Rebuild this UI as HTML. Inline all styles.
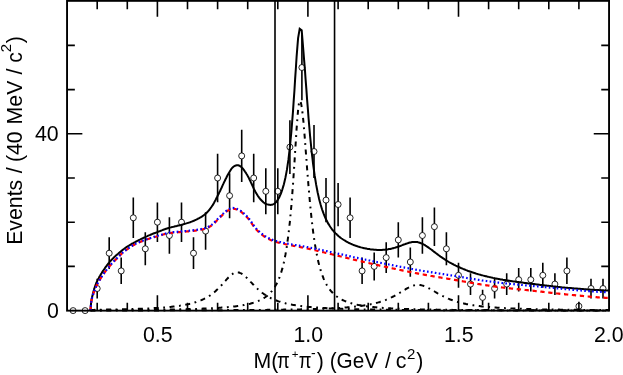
<!DOCTYPE html>
<html><head><meta charset="utf-8"><title>plot</title>
<style>html,body{margin:0;padding:0;background:#fff;}body{width:623px;height:375px;overflow:hidden;font-family:"Liberation Sans",sans-serif;}svg{display:block;will-change:transform}</style>
</head><body>
<svg width="623" height="375" viewBox="0 0 623 375">
<rect width="623" height="375" fill="#fff"/>
<path d="M97.2,278.7V298.4M109.2,237.2V269.1M121.2,257.6V284.1M133.3,197.5V238.1M145.3,232.2V265.3M157.4,202.5V242.0M169.4,217.3V253.7M181.5,202.5V242.0M193.5,237.2V269.1M205.6,212.3V249.8M217.6,153.8V202.2M229.6,173.2V218.2M241.7,129.8V182.1M253.7,153.8V202.2M265.8,168.3V214.3M277.8,168.3V214.3M289.9,120.2V174.0M301.9,34.7V100.3M314.0,125.0V178.0M326.0,178.0V222.2M338.1,182.9V226.2M350.1,197.5V238.1M362.1,257.6V284.1M374.2,252.5V280.4M386.2,242.3V272.9M398.3,222.2V257.6M410.3,247.4V276.7M422.4,217.3V253.7M434.4,207.4V245.9M446.4,232.2V265.3M458.5,262.8V287.8M470.5,273.3V295.0M482.6,289.7V305.0M494.6,278.7V298.4M506.7,273.3V295.0M518.7,268.0V291.4M530.8,268.0V291.4M542.8,262.8V287.8M554.9,273.3V295.0M566.9,257.6V284.1M578.9,301.8V310.6M591.0,278.7V298.4M603.0,278.7V298.4" stroke="#000" stroke-width="1.6" fill="none"/>
<g stroke="#000" stroke-width="0.85" fill="#fff">
<circle cx="73.1" cy="310.6" r="3"/>
<circle cx="85.1" cy="310.6" r="3"/>
<circle cx="97.2" cy="288.5" r="3"/>
<circle cx="109.2" cy="253.2" r="3"/>
<circle cx="121.2" cy="270.9" r="3"/>
<circle cx="133.3" cy="217.8" r="3"/>
<circle cx="145.3" cy="248.8" r="3"/>
<circle cx="157.4" cy="222.2" r="3"/>
<circle cx="169.4" cy="235.5" r="3"/>
<circle cx="181.5" cy="222.2" r="3"/>
<circle cx="193.5" cy="253.2" r="3"/>
<circle cx="205.6" cy="231.1" r="3"/>
<circle cx="217.6" cy="178.0" r="3"/>
<circle cx="229.6" cy="195.7" r="3"/>
<circle cx="241.7" cy="155.9" r="3"/>
<circle cx="253.7" cy="178.0" r="3"/>
<circle cx="265.8" cy="191.3" r="3"/>
<circle cx="277.8" cy="191.3" r="3"/>
<circle cx="289.9" cy="147.1" r="3"/>
<circle cx="301.9" cy="67.5" r="3"/>
<circle cx="314.0" cy="151.5" r="3"/>
<circle cx="326.0" cy="200.1" r="3"/>
<circle cx="338.1" cy="204.5" r="3"/>
<circle cx="350.1" cy="217.8" r="3"/>
<circle cx="362.1" cy="270.9" r="3"/>
<circle cx="374.2" cy="266.4" r="3"/>
<circle cx="386.2" cy="257.6" r="3"/>
<circle cx="398.3" cy="239.9" r="3"/>
<circle cx="410.3" cy="262.0" r="3"/>
<circle cx="422.4" cy="235.5" r="3"/>
<circle cx="434.4" cy="226.7" r="3"/>
<circle cx="446.4" cy="248.8" r="3"/>
<circle cx="458.5" cy="275.3" r="3"/>
<circle cx="470.5" cy="284.1" r="3"/>
<circle cx="482.6" cy="297.4" r="3"/>
<circle cx="494.6" cy="288.5" r="3"/>
<circle cx="506.7" cy="284.1" r="3"/>
<circle cx="518.7" cy="279.7" r="3"/>
<circle cx="530.8" cy="279.7" r="3"/>
<circle cx="542.8" cy="275.3" r="3"/>
<circle cx="554.9" cy="284.1" r="3"/>
<circle cx="566.9" cy="270.9" r="3"/>
<circle cx="578.9" cy="306.2" r="3"/>
<circle cx="591.0" cy="288.5" r="3"/>
<circle cx="603.0" cy="288.5" r="3"/>
</g>
<path d="M90.4,310.6L91.2,301.7L91.9,297.9L92.7,294.5L93.4,291.7L94.2,289.0L94.9,286.7L95.7,284.6L96.4,282.7L97.2,281.1L97.9,279.6L98.7,278.2L99.4,276.8L100.2,275.5L100.9,274.2L101.7,273.0L102.4,271.8L103.2,270.7L103.9,269.6L104.7,268.5L105.4,267.4L106.2,266.4L106.9,265.4L107.7,264.4L108.4,263.5L109.2,262.6L109.9,261.7L110.7,260.8L111.4,259.9L112.2,259.2L112.9,258.4L113.7,257.7L114.4,256.9L115.2,256.3L115.9,255.6L116.7,254.9L117.4,254.3L118.2,253.7L118.9,253.0L119.7,252.4L120.4,251.7L121.2,251.1L121.9,250.5L122.7,249.9L123.4,249.3L124.2,248.8L124.9,248.2L125.7,247.7L126.4,247.2L127.2,246.7L127.9,246.2L128.7,245.8L129.4,245.3L130.2,244.8L130.9,244.4L131.7,243.9L132.4,243.5L133.2,243.1L133.9,242.7L134.7,242.3L135.4,241.9L136.2,241.5L136.9,241.1L137.7,240.7L138.4,240.3L139.2,239.9L139.9,239.6L140.7,239.2L141.4,238.8L142.2,238.5L142.9,238.1L143.7,237.8L144.4,237.4L145.2,237.1L145.9,236.7L146.7,236.4L147.4,236.1L148.2,235.7L148.9,235.4L149.7,235.1L150.4,234.8L151.2,234.5L151.9,234.1L152.7,233.8L153.4,233.5L154.2,233.3L154.9,233.0L155.7,232.7L156.4,232.4L157.2,232.1L157.9,231.8L158.7,231.5L159.4,231.3L160.2,231.0L160.9,230.7L161.7,230.4L162.4,230.1L163.2,229.8L163.9,229.5L164.7,229.3L165.4,229.0L166.2,228.8L166.9,228.5L167.7,228.3L168.4,228.0L169.2,227.8L169.9,227.6L170.7,227.4L171.4,227.2L172.2,227.1L172.9,226.9L173.7,226.7L174.4,226.5L175.2,226.3L175.9,226.2L176.7,226.0L177.4,225.8L178.2,225.6L178.9,225.5L179.7,225.3L180.4,225.1L181.2,224.9L181.9,224.7L182.7,224.5L183.4,224.2L184.2,224.0L184.9,223.8L185.7,223.6L186.4,223.4L187.2,223.1L187.9,222.9L188.7,222.7L189.4,222.4L190.2,222.2L190.9,221.9L191.7,221.6L192.4,221.3L193.2,221.0L193.9,220.7L194.7,220.4L195.4,220.0L196.2,219.7L196.9,219.3L197.7,218.9L198.4,218.5L199.2,218.1L199.9,217.7L200.7,217.3L201.4,216.8L202.2,216.3L202.9,215.8L203.7,215.3L204.4,214.7L205.2,214.1L205.9,213.5L206.7,212.8L207.4,212.0L208.2,211.2L208.9,210.3L209.7,209.3L210.4,208.4L211.2,207.3L211.9,206.2L212.7,205.1L213.4,203.9L214.2,202.5L214.9,201.1L215.7,199.7L216.4,198.2L217.2,196.7L217.9,195.2L218.7,193.7L219.4,192.2L220.2,190.7L220.9,189.1L221.7,187.5L222.4,185.9L223.2,184.2L223.9,182.6L224.7,181.0L225.4,179.5L226.2,178.0L226.9,176.5L227.7,175.1L228.4,173.8L229.2,172.4L229.9,171.2L230.7,169.9L231.4,168.8L232.2,167.9L232.9,167.2L233.7,166.5L234.4,166.1L235.2,165.7L235.9,165.5L236.7,165.3L237.4,165.3L238.2,165.3L238.9,165.5L239.7,165.9L240.4,166.3L241.2,166.9L241.9,167.6L242.7,168.5L243.4,169.4L244.2,170.4L244.9,171.5L245.7,172.6L246.4,173.8L247.2,175.0L247.9,176.3L248.7,177.7L249.4,179.2L250.2,180.8L250.9,182.4L251.7,184.0L252.4,185.7L253.2,187.3L253.9,188.9L254.7,190.4L255.4,191.8L256.1,193.1L256.9,194.3L257.6,195.5L258.4,196.6L259.1,197.6L259.9,198.6L260.6,199.5L261.4,200.3L262.1,201.1L262.9,201.8L263.6,202.5L264.4,203.0L265.1,203.5L265.9,203.8L266.6,204.2L267.4,204.4L268.1,204.6L268.9,204.7L269.6,204.8L270.4,204.9L271.1,204.8L271.9,204.7L272.6,204.5L273.4,204.2L274.1,203.8L274.9,203.3L275.6,202.6L276.4,201.8L277.1,200.8L277.9,199.7L278.6,198.4L279.4,197.0L280.1,195.4L280.9,193.6L281.6,191.6L282.4,189.3L283.1,186.9L283.9,184.2L284.6,181.2L285.4,177.8L286.1,174.1L286.9,169.9L287.6,165.2L288.4,159.9L289.1,153.9L289.9,147.2L290.6,139.7L291.4,131.5L292.1,122.5L292.9,112.7L293.6,102.1L294.4,91.0L295.1,79.4L295.9,67.8L296.6,56.7L297.4,46.6L298.1,38.2L299.7,28.9L301.7,30.4L303.4,51.2L304.1,59.9L304.9,69.4L305.6,79.4L306.4,89.6L307.1,99.6L307.9,109.4L308.6,118.8L309.4,127.8L310.1,136.2L310.9,144.0L311.6,151.3L312.4,158.0L313.1,164.2L313.9,169.9L314.6,175.2L315.4,180.0L316.1,184.4L316.9,188.5L317.6,192.3L318.4,195.7L319.1,198.9L319.9,201.9L320.6,204.6L321.4,207.2L322.1,209.5L322.9,211.7L323.6,213.7L324.4,215.6L325.1,217.4L325.9,219.0L326.6,220.6L327.4,222.0L328.1,223.4L328.9,224.6L329.6,225.8L330.4,227.0L331.1,228.0L331.9,229.1L332.6,230.0L333.4,230.9L334.1,231.8L334.9,232.6L335.6,233.4L336.4,234.1L337.1,234.8L337.9,235.5L338.6,236.2L339.4,236.8L340.1,237.4L340.9,238.0L341.6,238.5L342.4,239.0L343.1,239.5L343.9,240.0L344.6,240.5L345.4,240.9L346.1,241.4L346.9,241.8L347.6,242.2L348.4,242.6L349.1,243.0L349.9,243.3L350.6,243.7L351.4,244.0L352.1,244.3L352.9,244.7L353.6,245.0L354.4,245.2L355.1,245.5L355.9,245.8L356.6,246.1L357.4,246.3L358.1,246.6L358.9,246.8L359.6,247.0L360.4,247.2L361.1,247.4L361.9,247.6L362.6,247.8L363.4,248.0L364.1,248.2L364.9,248.3L365.6,248.5L366.4,248.6L367.1,248.8L367.9,248.9L368.6,249.0L369.4,249.1L370.1,249.3L370.9,249.4L371.6,249.5L372.4,249.5L373.1,249.6L373.9,249.7L374.6,249.7L375.4,249.8L376.1,249.8L376.9,249.9L377.6,249.9L378.4,249.9L379.1,249.9L379.9,249.9L380.6,249.9L381.4,249.9L382.1,249.9L382.9,249.8L383.6,249.8L384.4,249.7L385.1,249.7L385.9,249.6L386.6,249.5L387.4,249.4L388.1,249.3L388.9,249.1L389.6,249.0L390.4,248.9L391.1,248.7L391.9,248.5L392.6,248.3L393.4,248.2L394.1,247.9L394.9,247.7L395.6,247.5L396.4,247.3L397.1,247.0L397.9,246.8L398.6,246.5L399.4,246.2L400.1,246.0L400.9,245.7L401.6,245.4L402.4,245.1L403.1,244.8L403.9,244.5L404.6,244.3L405.4,244.0L406.1,243.7L406.9,243.5L407.6,243.2L408.4,243.0L409.1,242.7L409.9,242.5L410.6,242.4L411.4,242.2L412.1,242.1L412.9,242.0L413.6,241.9L414.4,241.9L415.1,241.9L415.9,241.9L416.6,242.0L417.4,242.1L418.1,242.3L418.9,242.5L419.6,242.7L420.4,243.0L421.1,243.3L421.9,243.6L422.6,243.9L423.4,244.3L424.1,244.7L424.9,245.1L425.6,245.6L426.4,246.1L427.1,246.6L427.9,247.1L428.6,247.6L429.4,248.2L430.1,248.7L430.9,249.3L431.6,249.8L432.4,250.4L433.1,251.0L433.9,251.6L434.6,252.1L435.4,252.7L436.1,253.3L436.9,253.8L437.6,254.4L438.4,255.0L439.1,255.5L439.9,256.1L440.6,256.6L441.4,257.1L442.1,257.7L442.9,258.2L443.6,258.7L444.4,259.2L445.1,259.7L445.9,260.1L446.6,260.6L447.4,261.1L448.1,261.5L448.9,262.0L449.6,262.4L450.4,262.8L451.1,263.2L451.9,263.6L452.6,264.0L453.4,264.4L454.1,264.8L454.9,265.2L455.6,265.6L456.4,265.9L457.1,266.3L457.9,266.6L458.6,267.0L459.4,267.3L460.1,267.6L460.9,268.0L461.6,268.3L462.4,268.6L463.1,268.9L463.9,269.2L464.6,269.5L465.4,269.8L466.1,270.1L466.9,270.4L467.6,270.7L468.4,271.0L469.1,271.2L469.9,271.5L470.6,271.8L471.4,272.0L472.1,272.3L472.9,272.5L473.6,272.8L474.4,273.0L475.1,273.2L475.9,273.5L476.6,273.7L477.4,273.9L478.1,274.2L478.9,274.4L479.6,274.6L480.4,274.8L481.1,275.0L481.9,275.2L482.6,275.4L483.4,275.6L484.1,275.8L484.9,276.0L485.6,276.2L486.4,276.3L487.1,276.5L487.9,276.7L488.6,276.9L489.4,277.1L490.1,277.2L490.9,277.4L491.6,277.6L492.4,277.7L493.1,277.9L493.9,278.1L494.6,278.2L495.4,278.4L496.1,278.5L496.9,278.7L497.6,278.8L498.4,278.9L499.1,279.1L499.9,279.2L500.6,279.4L501.4,279.5L502.1,279.6L502.9,279.8L503.6,279.9L504.4,280.0L505.1,280.1L505.9,280.3L506.6,280.4L507.4,280.5L508.1,280.6L508.9,280.7L509.6,280.8L510.4,281.0L511.1,281.1L511.9,281.2L512.6,281.3L513.4,281.4L514.1,281.5L514.9,281.6L515.6,281.7L516.4,281.8L517.1,281.9L517.9,282.0L518.6,282.1L519.4,282.2L520.1,282.3L520.9,282.4L521.6,282.5L522.4,282.6L523.1,282.7L523.9,282.8L524.6,282.9L525.4,283.0L526.1,283.1L526.9,283.2L527.6,283.3L528.4,283.4L529.1,283.5L529.9,283.6L530.6,283.7L531.4,283.8L532.1,283.8L532.9,283.9L533.6,284.0L534.4,284.1L535.1,284.2L535.9,284.3L536.6,284.4L537.4,284.5L538.1,284.6L538.9,284.7L539.6,284.8L540.4,284.9L541.1,284.9L541.9,285.0L542.6,285.1L543.4,285.2L544.1,285.3L544.9,285.4L545.6,285.5L546.4,285.6L547.1,285.7L547.9,285.8L548.6,285.8L549.4,285.9L550.1,286.0L550.9,286.1L551.6,286.2L552.4,286.3L553.1,286.4L553.9,286.4L554.6,286.5L555.4,286.6L556.1,286.7L556.9,286.8L557.6,286.9L558.4,287.0L559.1,287.0L559.9,287.1L560.6,287.2L561.4,287.3L562.1,287.4L562.9,287.4L563.6,287.5L564.4,287.6L565.1,287.7L565.9,287.7L566.6,287.8L567.4,287.8L568.1,287.9L568.9,288.0L569.6,288.0L570.4,288.1L571.1,288.1L571.9,288.2L572.6,288.3L573.4,288.3L574.1,288.4L574.9,288.4L575.6,288.5L576.4,288.5L577.1,288.6L577.9,288.7L578.6,288.7L579.4,288.8L580.1,288.8L580.9,288.9L581.6,289.0L582.4,289.0L583.1,289.1L583.9,289.2L584.6,289.2L585.4,289.3L586.1,289.3L586.9,289.4L587.6,289.5L588.4,289.5L589.1,289.6L589.9,289.6L590.6,289.7L591.4,289.7L592.1,289.7L592.9,289.8L593.6,289.8L594.4,289.9L595.1,289.9L595.9,290.0L596.6,290.0L597.4,290.0L598.1,290.1L598.9,290.1L599.6,290.2L600.4,290.2L601.1,290.2L601.9,290.3L602.6,290.3L603.4,290.3L604.1,290.4L604.9,290.4L605.6,290.4L606.4,290.4L607.1,290.5L607.9,290.5L608.6,290.5L609.0,290.5" stroke="#000" stroke-width="2" fill="none" stroke-linejoin="miter" stroke-miterlimit="10"/>
<g fill="none" stroke-linejoin="round">
<path d="M90.4,310.6L91.2,310.1L91.9,310.0L92.7,309.9L93.4,309.9L94.2,309.9L94.9,309.8L95.7,309.8L96.4,309.8L97.2,309.8L97.9,309.8L98.7,309.8L99.4,309.7L100.2,309.7L100.9,309.7L101.7,309.7L102.4,309.7L103.2,309.7L103.9,309.7L104.7,309.7L105.4,309.6L106.2,309.6L106.9,309.6L107.7,309.6L108.4,309.6L109.2,309.6L109.9,309.6L110.7,309.5L111.4,309.5L112.2,309.5L112.9,309.5L113.7,309.5L114.4,309.5L115.2,309.5L115.9,309.4L116.7,309.4L117.4,309.4L118.2,309.4L118.9,309.4L119.7,309.4L120.4,309.4L121.2,309.3L121.9,309.3L122.7,309.3L123.4,309.3L124.2,309.3L124.9,309.2L125.7,309.2L126.4,309.2L127.2,309.2L127.9,309.2L128.7,309.1L129.4,309.1L130.2,309.1L130.9,309.1L131.7,309.1L132.4,309.0L133.2,309.0L133.9,309.0L134.7,309.0L135.4,308.9L136.2,308.9L136.9,308.9L137.7,308.9L138.4,308.8L139.2,308.8L139.9,308.8L140.7,308.8L141.4,308.7L142.2,308.7L142.9,308.7L143.7,308.6L144.4,308.6L145.2,308.6L145.9,308.6L146.7,308.5L147.4,308.5L148.2,308.5L148.9,308.4L149.7,308.4L150.4,308.3L151.2,308.3L151.9,308.3L152.7,308.2L153.4,308.2L154.2,308.1L154.9,308.1L155.7,308.1L156.4,308.0L157.2,308.0L157.9,307.9L158.7,307.9L159.4,307.8L160.2,307.8L160.9,307.7L161.7,307.7L162.4,307.6L163.2,307.5L163.9,307.5L164.7,307.4L165.4,307.4L166.2,307.3L166.9,307.2L167.7,307.2L168.4,307.1L169.2,307.0L169.9,306.9L170.7,306.9L171.4,306.8L172.2,306.7L172.9,306.6L173.7,306.5L174.4,306.5L175.2,306.4L175.9,306.3L176.7,306.2L177.4,306.1L178.2,306.0L178.9,305.9L179.7,305.8L180.4,305.6L181.2,305.5L181.9,305.4L182.7,305.3L183.4,305.2L184.2,305.0L184.9,304.9L185.7,304.7L186.4,304.6L187.2,304.4L187.9,304.3L188.7,304.1L189.4,303.9L190.2,303.8L190.9,303.6L191.7,303.4L192.4,303.2L193.2,303.0L193.9,302.8L194.7,302.5L195.4,302.3L196.2,302.1L196.9,301.8L197.7,301.6L198.4,301.3L199.2,301.0L199.9,300.7L200.7,300.4L201.4,300.1L202.2,299.8L202.9,299.4L203.7,299.1L204.4,298.7L205.2,298.3L205.9,297.9L206.7,297.5L207.4,297.1L208.2,296.6L208.9,296.2L209.7,295.7L210.4,295.2L211.2,294.6L211.9,294.1L212.7,293.5L213.4,292.9L214.2,292.3L214.9,291.7L215.7,291.0L216.4,290.3L217.2,289.6L217.9,288.9L218.7,288.2L219.4,287.4L220.2,286.6L220.9,285.8L221.7,285.0L222.4,284.2L223.2,283.3L223.9,282.5L224.7,281.6L225.4,280.8L226.2,279.9L226.9,279.1L227.7,278.3L228.4,277.5L229.2,276.8L229.9,276.0L230.7,275.4L231.4,274.7L232.2,274.2L232.9,273.7L233.7,273.2L234.4,272.9L235.2,272.6L235.9,272.4L236.7,272.3L237.4,272.3L238.2,272.4L238.9,272.5L239.7,272.8L240.4,273.1L241.2,273.4L241.9,273.8L242.7,274.3L243.4,274.9L244.2,275.5L244.9,276.1L245.7,276.8L246.4,277.5L247.2,278.2L247.9,279.0L248.7,279.8L249.4,280.6L250.2,281.3L250.9,282.1L251.7,282.9L252.4,283.7L253.2,284.5L253.9,285.3L254.7,286.0L255.4,286.8L256.1,287.5L256.9,288.2L257.6,288.9L258.4,289.6L259.1,290.3L259.9,290.9L260.6,291.5L261.4,292.1L262.1,292.7L262.9,293.3L263.6,293.8L264.4,294.3L265.1,294.8L265.9,295.3L266.6,295.8L267.4,296.2L268.1,296.7L268.9,297.1L269.6,297.5L270.4,297.9L271.1,298.3L271.9,298.6L272.6,299.0L273.4,299.3L274.1,299.6L274.9,300.0L275.6,300.3L276.4,300.5L277.1,300.8L277.9,301.1L278.6,301.4L279.4,301.6L280.1,301.8L280.9,302.1L281.6,302.3L282.4,302.5L283.1,302.7L283.9,302.9L284.6,303.1L285.4,303.3L286.1,303.5L286.9,303.7L287.6,303.8L288.4,304.0L289.1,304.2L289.9,304.3L290.6,304.5L291.4,304.6L292.1,304.7L292.9,304.9L293.6,305.0L294.4,305.1L295.1,305.2L295.9,305.4L296.6,305.5L297.4,305.6L298.1,305.7L298.9,305.8L299.6,305.9L300.4,306.0L301.1,306.1L301.9,306.2L302.6,306.3L303.4,306.4L304.1,306.5L304.9,306.5L305.6,306.6L306.4,306.7L307.1,306.8L307.9,306.8L308.6,306.9L309.4,307.0L310.1,307.1L310.9,307.1L311.6,307.2L312.4,307.2L313.1,307.3L313.9,307.4L314.6,307.4L315.4,307.5L316.1,307.5L316.9,307.6L317.6,307.6L318.4,307.7L319.1,307.7L319.9,307.8L320.6,307.8L321.4,307.9L322.1,307.9L322.9,308.0L323.6,308.0L324.4,308.1L325.1,308.1L325.9,308.1L326.6,308.2L327.4,308.2L328.1,308.3L328.9,308.3L329.6,308.3L330.4,308.4L331.1,308.4L331.9,308.4L332.6,308.5L333.4,308.5L334.1,308.5L334.9,308.6L335.6,308.6L336.4,308.6L337.1,308.6L337.9,308.7L338.6,308.7L339.4,308.7L340.1,308.8L340.9,308.8L341.6,308.8L342.4,308.8L343.1,308.9L343.9,308.9L344.6,308.9L345.4,308.9L346.1,308.9L346.9,309.0L347.6,309.0L348.4,309.0L349.1,309.0L349.9,309.1L350.6,309.1L351.4,309.1L352.1,309.1L352.9,309.1L353.6,309.2L354.4,309.2L355.1,309.2L355.9,309.2L356.6,309.2L357.4,309.2L358.1,309.3L358.9,309.3L359.6,309.3L360.4,309.3L361.1,309.3L361.9,309.3L362.6,309.4L363.4,309.4L364.1,309.4L364.9,309.4L365.6,309.4L366.4,309.4L367.1,309.4L367.9,309.4L368.6,309.5L369.4,309.5L370.1,309.5L370.9,309.5L371.6,309.5L372.4,309.5L373.1,309.5L373.9,309.5L374.6,309.6L375.4,309.6L376.1,309.6L376.9,309.6L377.6,309.6L378.4,309.6L379.1,309.6L379.9,309.6L380.6,309.6L381.4,309.7L382.1,309.7L382.9,309.7L383.6,309.7L384.4,309.7L385.1,309.7L385.9,309.7L386.6,309.7L387.4,309.7L388.1,309.7L388.9,309.8L389.6,309.8L390.4,309.8L391.1,309.8L391.9,309.8L392.6,309.8L393.4,309.8L394.1,309.8L394.9,309.8L395.6,309.8L396.4,309.8L397.1,309.8L397.9,309.8L398.6,309.9L399.4,309.9L400.1,309.9L400.9,309.9L401.6,309.9L402.4,309.9L403.1,309.9L403.9,309.9L404.6,309.9L405.4,309.9L406.1,309.9L406.9,309.9L407.6,309.9L408.4,309.9L409.1,309.9L409.9,310.0L410.6,310.0L411.4,310.0L412.1,310.0L412.9,310.0L413.6,310.0L414.4,310.0L415.1,310.0L415.9,310.0L416.6,310.0L417.4,310.0L418.1,310.0L418.9,310.0L419.6,310.0L420.4,310.0L421.1,310.0L421.9,310.0L422.6,310.0L423.4,310.0L424.1,310.1L424.9,310.1L425.6,310.1L426.4,310.1L427.1,310.1L427.9,310.1L428.6,310.1L429.4,310.1L430.1,310.1L430.9,310.1L431.6,310.1L432.4,310.1L433.1,310.1L433.9,310.1L434.6,310.1L435.4,310.1L436.1,310.1L436.9,310.1L437.6,310.1L438.4,310.1L439.1,310.1L439.9,310.1L440.6,310.1L441.4,310.1L442.1,310.2L442.9,310.2L443.6,310.2L444.4,310.2L445.1,310.2L445.9,310.2L446.6,310.2L447.4,310.2L448.1,310.2L448.9,310.2L449.6,310.2L450.4,310.2L451.1,310.2L451.9,310.2L452.6,310.2L453.4,310.2L454.1,310.2L454.9,310.2L455.6,310.2L456.4,310.2L457.1,310.2L457.9,310.2L458.6,310.2L459.4,310.2L460.1,310.2L460.9,310.2L461.6,310.2L462.4,310.2L463.1,310.2L463.9,310.2L464.6,310.2L465.4,310.2L466.1,310.2L466.9,310.3L467.6,310.3L468.4,310.3L469.1,310.3L469.9,310.3L470.6,310.3L471.4,310.3L472.1,310.3L472.9,310.3L473.6,310.3L474.4,310.3L475.1,310.3L475.9,310.3L476.6,310.3L477.4,310.3L478.1,310.3L478.9,310.3L479.6,310.3L480.4,310.3L481.1,310.3L481.9,310.3L482.6,310.3L483.4,310.3L484.1,310.3L484.9,310.3L485.6,310.3L486.4,310.3L487.1,310.3L487.9,310.3L488.6,310.3L489.4,310.3L490.1,310.3L490.9,310.3L491.6,310.3L492.4,310.3L493.1,310.3L493.9,310.3L494.6,310.3L495.4,310.3L496.1,310.3L496.9,310.3L497.6,310.3L498.4,310.3L499.1,310.3L499.9,310.3L500.6,310.3L501.4,310.3L502.1,310.4L502.9,310.4L503.6,310.4L504.4,310.4L505.1,310.4L505.9,310.4L506.6,310.4L507.4,310.4L508.1,310.4L508.9,310.4L509.6,310.4L510.4,310.4L511.1,310.4L511.9,310.4L512.6,310.4L513.4,310.4L514.1,310.4L514.9,310.4L515.6,310.4L516.4,310.4L517.1,310.4L517.9,310.4L518.6,310.4L519.4,310.4L520.1,310.4L520.9,310.4L521.6,310.4L522.4,310.4L523.1,310.4L523.9,310.4L524.6,310.4L525.4,310.4L526.1,310.4L526.9,310.4L527.6,310.4L528.4,310.4L529.1,310.4L529.9,310.4L530.6,310.4L531.4,310.4L532.1,310.4L532.9,310.4L533.6,310.4L534.4,310.4L535.1,310.4L535.9,310.4L536.6,310.4L537.4,310.4L538.1,310.4L538.9,310.4L539.6,310.4L540.4,310.4L541.1,310.4L541.9,310.4L542.6,310.4L543.4,310.4L544.1,310.4L544.9,310.4L545.6,310.4L546.4,310.4L547.1,310.4L547.9,310.4L548.6,310.4L549.4,310.4L550.1,310.4L550.9,310.4L551.6,310.4L552.4,310.4L553.1,310.4L553.9,310.4L554.6,310.4L555.4,310.4L556.1,310.4L556.9,310.4L557.6,310.4L558.4,310.4L559.1,310.4L559.9,310.4L560.6,310.4L561.4,310.4L562.1,310.5L562.9,310.5L563.6,310.5L564.4,310.5L565.1,310.5L565.9,310.5L566.6,310.5L567.4,310.5L568.1,310.5L568.9,310.5L569.6,310.5L570.4,310.5L571.1,310.5L571.9,310.5L572.6,310.5L573.4,310.5L574.1,310.5L574.9,310.5L575.6,310.5L576.4,310.5L577.1,310.5L577.9,310.5L578.6,310.5L579.4,310.5L580.1,310.5L580.9,310.5L581.6,310.5L582.4,310.5L583.1,310.5L583.9,310.5L584.6,310.5L585.4,310.5L586.1,310.5L586.9,310.5L587.6,310.5L588.4,310.5L589.1,310.5L589.9,310.5L590.6,310.5L591.4,310.5L592.1,310.5L592.9,310.5L593.6,310.5L594.4,310.5L595.1,310.5L595.9,310.5L596.6,310.5L597.4,310.5L598.1,310.5L598.9,310.5L599.6,310.5L600.4,310.5L601.1,310.5L601.9,310.5L602.6,310.5L603.4,310.5L604.1,310.5L604.9,310.5L605.6,310.5L606.4,310.5L607.1,310.5L607.9,310.5L608.6,310.5L609.0,310.5" stroke="#000" stroke-width="2" stroke-dasharray="5 4.55 1.8 4.55"/>
<path d="M90.4,310.6L91.2,310.3L91.9,310.3L92.7,310.3L93.4,310.2L94.2,310.2L94.9,310.2L95.7,310.2L96.4,310.2L97.2,310.2L97.9,310.2L98.7,310.2L99.4,310.2L100.2,310.2L100.9,310.2L101.7,310.2L102.4,310.1L103.2,310.1L103.9,310.1L104.7,310.1L105.4,310.1L106.2,310.1L106.9,310.1L107.7,310.1L108.4,310.1L109.2,310.1L109.9,310.1L110.7,310.1L111.4,310.1L112.2,310.1L112.9,310.1L113.7,310.1L114.4,310.1L115.2,310.1L115.9,310.1L116.7,310.1L117.4,310.1L118.2,310.0L118.9,310.0L119.7,310.0L120.4,310.0L121.2,310.0L121.9,310.0L122.7,310.0L123.4,310.0L124.2,310.0L124.9,310.0L125.7,310.0L126.4,310.0L127.2,310.0L127.9,310.0L128.7,310.0L129.4,310.0L130.2,310.0L130.9,310.0L131.7,309.9L132.4,309.9L133.2,309.9L133.9,309.9L134.7,309.9L135.4,309.9L136.2,309.9L136.9,309.9L137.7,309.9L138.4,309.9L139.2,309.9L139.9,309.9L140.7,309.9L141.4,309.9L142.2,309.9L142.9,309.8L143.7,309.8L144.4,309.8L145.2,309.8L145.9,309.8L146.7,309.8L147.4,309.8L148.2,309.8L148.9,309.8L149.7,309.8L150.4,309.8L151.2,309.8L151.9,309.8L152.7,309.7L153.4,309.7L154.2,309.7L154.9,309.7L155.7,309.7L156.4,309.7L157.2,309.7L157.9,309.7L158.7,309.7L159.4,309.7L160.2,309.6L160.9,309.6L161.7,309.6L162.4,309.6L163.2,309.6L163.9,309.6L164.7,309.6L165.4,309.6L166.2,309.6L166.9,309.5L167.7,309.5L168.4,309.5L169.2,309.5L169.9,309.5L170.7,309.5L171.4,309.5L172.2,309.5L172.9,309.4L173.7,309.4L174.4,309.4L175.2,309.4L175.9,309.4L176.7,309.4L177.4,309.4L178.2,309.3L178.9,309.3L179.7,309.3L180.4,309.3L181.2,309.3L181.9,309.3L182.7,309.2L183.4,309.2L184.2,309.2L184.9,309.2L185.7,309.2L186.4,309.2L187.2,309.1L187.9,309.1L188.7,309.1L189.4,309.1L190.2,309.1L190.9,309.0L191.7,309.0L192.4,309.0L193.2,309.0L193.9,309.0L194.7,308.9L195.4,308.9L196.2,308.9L196.9,308.9L197.7,308.8L198.4,308.8L199.2,308.8L199.9,308.8L200.7,308.7L201.4,308.7L202.2,308.7L202.9,308.6L203.7,308.6L204.4,308.6L205.2,308.6L205.9,308.5L206.7,308.5L207.4,308.5L208.2,308.4L208.9,308.4L209.7,308.4L210.4,308.3L211.2,308.3L211.9,308.2L212.7,308.2L213.4,308.2L214.2,308.1L214.9,308.1L215.7,308.0L216.4,308.0L217.2,307.9L217.9,307.9L218.7,307.9L219.4,307.8L220.2,307.8L220.9,307.7L221.7,307.6L222.4,307.6L223.2,307.5L223.9,307.5L224.7,307.4L225.4,307.4L226.2,307.3L226.9,307.2L227.7,307.2L228.4,307.1L229.2,307.0L229.9,306.9L230.7,306.9L231.4,306.8L232.2,306.7L232.9,306.6L233.7,306.5L234.4,306.5L235.2,306.4L235.9,306.3L236.7,306.2L237.4,306.1L238.2,306.0L238.9,305.9L239.7,305.8L240.4,305.6L241.2,305.5L241.9,305.4L242.7,305.3L243.4,305.1L244.2,305.0L244.9,304.8L245.7,304.7L246.4,304.5L247.2,304.4L247.9,304.2L248.7,304.0L249.4,303.9L250.2,303.7L250.9,303.5L251.7,303.3L252.4,303.0L253.2,302.8L253.9,302.6L254.7,302.3L255.4,302.1L256.1,301.8L256.9,301.5L257.6,301.2L258.4,300.9L259.1,300.6L259.9,300.3L260.6,299.9L261.4,299.5L262.1,299.1L262.9,298.7L263.6,298.2L264.4,297.8L265.1,297.3L265.9,296.7L266.6,296.2L267.4,295.6L268.1,294.9L268.9,294.3L269.6,293.5L270.4,292.8L271.1,291.9L271.9,291.1L272.6,290.1L273.4,289.1L274.1,288.0L274.9,286.9L275.6,285.6L276.4,284.3L277.1,282.8L277.9,281.2L278.6,279.5L279.4,277.7L280.1,275.6L280.9,273.4L281.6,271.0L282.4,268.4L283.1,265.5L283.9,262.3L284.6,258.8L285.4,254.9L286.1,250.7L286.9,245.9L287.6,240.7L288.4,235.0L289.1,228.6L289.9,221.6L290.6,213.8L291.4,205.3L292.1,196.0L292.9,186.0L293.6,175.2L294.4,163.7L295.1,152.0L295.9,140.1L296.6,128.7L297.4,118.4L298.1,109.8L298.9,103.7L299.6,100.8L300.4,101.3L301.1,103.6L301.9,107.9L302.6,113.8L303.4,121.3L304.1,129.8L304.9,139.1L305.6,148.9L306.4,158.8L307.1,168.7L307.9,178.3L308.6,187.5L309.4,196.2L310.1,204.4L310.9,212.0L311.6,219.1L312.4,225.6L313.1,231.6L313.9,237.2L314.6,242.2L315.4,246.9L316.1,251.1L316.9,255.0L317.6,258.6L318.4,261.9L319.1,264.9L319.9,267.6L320.6,270.2L321.4,272.5L322.1,274.7L322.9,276.7L323.6,278.6L324.4,280.3L325.1,281.9L325.9,283.3L326.6,284.7L327.4,286.0L328.1,287.2L328.9,288.3L329.6,289.3L330.4,290.3L331.1,291.2L331.9,292.0L332.6,292.8L333.4,293.6L334.1,294.3L334.9,295.0L335.6,295.6L336.4,296.2L337.1,296.7L337.9,297.3L338.6,297.8L339.4,298.2L340.1,298.7L340.9,299.1L341.6,299.5L342.4,299.9L343.1,300.3L343.9,300.6L344.6,300.9L345.4,301.2L346.1,301.5L346.9,301.8L347.6,302.1L348.4,302.4L349.1,302.6L349.9,302.9L350.6,303.1L351.4,303.3L352.1,303.5L352.9,303.7L353.6,303.9L354.4,304.1L355.1,304.3L355.9,304.4L356.6,304.6L357.4,304.8L358.1,304.9L358.9,305.1L359.6,305.2L360.4,305.3L361.1,305.5L361.9,305.6L362.6,305.7L363.4,305.8L364.1,305.9L364.9,306.1L365.6,306.2L366.4,306.3L367.1,306.4L367.9,306.5L368.6,306.6L369.4,306.6L370.1,306.7L370.9,306.8L371.6,306.9L372.4,307.0L373.1,307.0L373.9,307.1L374.6,307.2L375.4,307.3L376.1,307.3L376.9,307.4L377.6,307.5L378.4,307.5L379.1,307.6L379.9,307.6L380.6,307.7L381.4,307.8L382.1,307.8L382.9,307.9L383.6,307.9L384.4,308.0L385.1,308.0L385.9,308.1L386.6,308.1L387.4,308.1L388.1,308.2L388.9,308.2L389.6,308.3L390.4,308.3L391.1,308.4L391.9,308.4L392.6,308.4L393.4,308.5L394.1,308.5L394.9,308.5L395.6,308.6L396.4,308.6L397.1,308.6L397.9,308.7L398.6,308.7L399.4,308.7L400.1,308.8L400.9,308.8L401.6,308.8L402.4,308.8L403.1,308.9L403.9,308.9L404.6,308.9L405.4,308.9L406.1,309.0L406.9,309.0L407.6,309.0L408.4,309.0L409.1,309.1L409.9,309.1L410.6,309.1L411.4,309.1L412.1,309.2L412.9,309.2L413.6,309.2L414.4,309.2L415.1,309.2L415.9,309.2L416.6,309.3L417.4,309.3L418.1,309.3L418.9,309.3L419.6,309.3L420.4,309.4L421.1,309.4L421.9,309.4L422.6,309.4L423.4,309.4L424.1,309.4L424.9,309.4L425.6,309.5L426.4,309.5L427.1,309.5L427.9,309.5L428.6,309.5L429.4,309.5L430.1,309.5L430.9,309.6L431.6,309.6L432.4,309.6L433.1,309.6L433.9,309.6L434.6,309.6L435.4,309.6L436.1,309.6L436.9,309.7L437.6,309.7L438.4,309.7L439.1,309.7L439.9,309.7L440.6,309.7L441.4,309.7L442.1,309.7L442.9,309.7L443.6,309.8L444.4,309.8L445.1,309.8L445.9,309.8L446.6,309.8L447.4,309.8L448.1,309.8L448.9,309.8L449.6,309.8L450.4,309.8L451.1,309.8L451.9,309.8L452.6,309.9L453.4,309.9L454.1,309.9L454.9,309.9L455.6,309.9L456.4,309.9L457.1,309.9L457.9,309.9L458.6,309.9L459.4,309.9L460.1,309.9L460.9,309.9L461.6,309.9L462.4,310.0L463.1,310.0L463.9,310.0L464.6,310.0L465.4,310.0L466.1,310.0L466.9,310.0L467.6,310.0L468.4,310.0L469.1,310.0L469.9,310.0L470.6,310.0L471.4,310.0L472.1,310.0L472.9,310.0L473.6,310.0L474.4,310.0L475.1,310.1L475.9,310.1L476.6,310.1L477.4,310.1L478.1,310.1L478.9,310.1L479.6,310.1L480.4,310.1L481.1,310.1L481.9,310.1L482.6,310.1L483.4,310.1L484.1,310.1L484.9,310.1L485.6,310.1L486.4,310.1L487.1,310.1L487.9,310.1L488.6,310.1L489.4,310.1L490.1,310.1L490.9,310.2L491.6,310.2L492.4,310.2L493.1,310.2L493.9,310.2L494.6,310.2L495.4,310.2L496.1,310.2L496.9,310.2L497.6,310.2L498.4,310.2L499.1,310.2L499.9,310.2L500.6,310.2L501.4,310.2L502.1,310.2L502.9,310.2L503.6,310.2L504.4,310.2L505.1,310.2L505.9,310.2L506.6,310.2L507.4,310.2L508.1,310.2L508.9,310.2L509.6,310.2L510.4,310.2L511.1,310.2L511.9,310.2L512.6,310.3L513.4,310.3L514.1,310.3L514.9,310.3L515.6,310.3L516.4,310.3L517.1,310.3L517.9,310.3L518.6,310.3L519.4,310.3L520.1,310.3L520.9,310.3L521.6,310.3L522.4,310.3L523.1,310.3L523.9,310.3L524.6,310.3L525.4,310.3L526.1,310.3L526.9,310.3L527.6,310.3L528.4,310.3L529.1,310.3L529.9,310.3L530.6,310.3L531.4,310.3L532.1,310.3L532.9,310.3L533.6,310.3L534.4,310.3L535.1,310.3L535.9,310.3L536.6,310.3L537.4,310.3L538.1,310.3L538.9,310.3L539.6,310.3L540.4,310.3L541.1,310.3L541.9,310.3L542.6,310.3L543.4,310.3L544.1,310.4L544.9,310.4L545.6,310.4L546.4,310.4L547.1,310.4L547.9,310.4L548.6,310.4L549.4,310.4L550.1,310.4L550.9,310.4L551.6,310.4L552.4,310.4L553.1,310.4L553.9,310.4L554.6,310.4L555.4,310.4L556.1,310.4L556.9,310.4L557.6,310.4L558.4,310.4L559.1,310.4L559.9,310.4L560.6,310.4L561.4,310.4L562.1,310.4L562.9,310.4L563.6,310.4L564.4,310.4L565.1,310.4L565.9,310.4L566.6,310.4L567.4,310.4L568.1,310.4L568.9,310.4L569.6,310.4L570.4,310.4L571.1,310.4L571.9,310.4L572.6,310.4L573.4,310.4L574.1,310.4L574.9,310.4L575.6,310.4L576.4,310.4L577.1,310.4L577.9,310.4L578.6,310.4L579.4,310.4L580.1,310.4L580.9,310.4L581.6,310.4L582.4,310.4L583.1,310.4L583.9,310.4L584.6,310.4L585.4,310.4L586.1,310.4L586.9,310.4L587.6,310.4L588.4,310.4L589.1,310.4L589.9,310.4L590.6,310.4L591.4,310.4L592.1,310.4L592.9,310.4L593.6,310.4L594.4,310.4L595.1,310.4L595.9,310.4L596.6,310.5L597.4,310.5L598.1,310.5L598.9,310.5L599.6,310.5L600.4,310.5L601.1,310.5L601.9,310.5L602.6,310.5L603.4,310.5L604.1,310.5L604.9,310.5L605.6,310.5L606.4,310.5L607.1,310.5L607.9,310.5L608.6,310.5L609.0,310.5" stroke="#000" stroke-width="2" stroke-dasharray="5 4.55 1.8 4.55"/>
<path d="M90.4,310.6L91.2,310.5L91.9,310.5L92.7,310.5L93.4,310.5L94.2,310.5L94.9,310.5L95.7,310.5L96.4,310.5L97.2,310.5L97.9,310.5L98.7,310.5L99.4,310.5L100.2,310.5L100.9,310.5L101.7,310.5L102.4,310.5L103.2,310.5L103.9,310.5L104.7,310.5L105.4,310.5L106.2,310.5L106.9,310.5L107.7,310.5L108.4,310.5L109.2,310.5L109.9,310.5L110.7,310.5L111.4,310.5L112.2,310.5L112.9,310.5L113.7,310.5L114.4,310.5L115.2,310.5L115.9,310.4L116.7,310.4L117.4,310.4L118.2,310.4L118.9,310.4L119.7,310.4L120.4,310.4L121.2,310.4L121.9,310.4L122.7,310.4L123.4,310.4L124.2,310.4L124.9,310.4L125.7,310.4L126.4,310.4L127.2,310.4L127.9,310.4L128.7,310.4L129.4,310.4L130.2,310.4L130.9,310.4L131.7,310.4L132.4,310.4L133.2,310.4L133.9,310.4L134.7,310.4L135.4,310.4L136.2,310.4L136.9,310.4L137.7,310.4L138.4,310.4L139.2,310.4L139.9,310.4L140.7,310.4L141.4,310.4L142.2,310.4L142.9,310.4L143.7,310.4L144.4,310.4L145.2,310.4L145.9,310.4L146.7,310.4L147.4,310.4L148.2,310.4L148.9,310.4L149.7,310.4L150.4,310.4L151.2,310.4L151.9,310.4L152.7,310.4L153.4,310.4L154.2,310.4L154.9,310.4L155.7,310.4L156.4,310.4L157.2,310.4L157.9,310.4L158.7,310.4L159.4,310.4L160.2,310.4L160.9,310.4L161.7,310.4L162.4,310.4L163.2,310.4L163.9,310.4L164.7,310.4L165.4,310.4L166.2,310.4L166.9,310.4L167.7,310.4L168.4,310.4L169.2,310.4L169.9,310.3L170.7,310.3L171.4,310.3L172.2,310.3L172.9,310.3L173.7,310.3L174.4,310.3L175.2,310.3L175.9,310.3L176.7,310.3L177.4,310.3L178.2,310.3L178.9,310.3L179.7,310.3L180.4,310.3L181.2,310.3L181.9,310.3L182.7,310.3L183.4,310.3L184.2,310.3L184.9,310.3L185.7,310.3L186.4,310.3L187.2,310.3L187.9,310.3L188.7,310.3L189.4,310.3L190.2,310.3L190.9,310.3L191.7,310.3L192.4,310.3L193.2,310.3L193.9,310.3L194.7,310.3L195.4,310.3L196.2,310.3L196.9,310.3L197.7,310.3L198.4,310.3L199.2,310.3L199.9,310.3L200.7,310.3L201.4,310.3L202.2,310.3L202.9,310.3L203.7,310.2L204.4,310.2L205.2,310.2L205.9,310.2L206.7,310.2L207.4,310.2L208.2,310.2L208.9,310.2L209.7,310.2L210.4,310.2L211.2,310.2L211.9,310.2L212.7,310.2L213.4,310.2L214.2,310.2L214.9,310.2L215.7,310.2L216.4,310.2L217.2,310.2L217.9,310.2L218.7,310.2L219.4,310.2L220.2,310.2L220.9,310.2L221.7,310.2L222.4,310.2L223.2,310.2L223.9,310.2L224.7,310.2L225.4,310.2L226.2,310.1L226.9,310.1L227.7,310.1L228.4,310.1L229.2,310.1L229.9,310.1L230.7,310.1L231.4,310.1L232.2,310.1L232.9,310.1L233.7,310.1L234.4,310.1L235.2,310.1L235.9,310.1L236.7,310.1L237.4,310.1L238.2,310.1L238.9,310.1L239.7,310.1L240.4,310.1L241.2,310.1L241.9,310.1L242.7,310.1L243.4,310.0L244.2,310.0L244.9,310.0L245.7,310.0L246.4,310.0L247.2,310.0L247.9,310.0L248.7,310.0L249.4,310.0L250.2,310.0L250.9,310.0L251.7,310.0L252.4,310.0L253.2,310.0L253.9,310.0L254.7,310.0L255.4,310.0L256.1,310.0L256.9,309.9L257.6,309.9L258.4,309.9L259.1,309.9L259.9,309.9L260.6,309.9L261.4,309.9L262.1,309.9L262.9,309.9L263.6,309.9L264.4,309.9L265.1,309.9L265.9,309.9L266.6,309.9L267.4,309.8L268.1,309.8L268.9,309.8L269.6,309.8L270.4,309.8L271.1,309.8L271.9,309.8L272.6,309.8L273.4,309.8L274.1,309.8L274.9,309.8L275.6,309.8L276.4,309.7L277.1,309.7L277.9,309.7L278.6,309.7L279.4,309.7L280.1,309.7L280.9,309.7L281.6,309.7L282.4,309.7L283.1,309.7L283.9,309.6L284.6,309.6L285.4,309.6L286.1,309.6L286.9,309.6L287.6,309.6L288.4,309.6L289.1,309.6L289.9,309.6L290.6,309.5L291.4,309.5L292.1,309.5L292.9,309.5L293.6,309.5L294.4,309.5L295.1,309.5L295.9,309.4L296.6,309.4L297.4,309.4L298.1,309.4L298.9,309.4L299.6,309.4L300.4,309.4L301.1,309.3L301.9,309.3L302.6,309.3L303.4,309.3L304.1,309.3L304.9,309.3L305.6,309.2L306.4,309.2L307.1,309.2L307.9,309.2L308.6,309.2L309.4,309.1L310.1,309.1L310.9,309.1L311.6,309.1L312.4,309.1L313.1,309.0L313.9,309.0L314.6,309.0L315.4,309.0L316.1,309.0L316.9,308.9L317.6,308.9L318.4,308.9L319.1,308.9L319.9,308.8L320.6,308.8L321.4,308.8L322.1,308.7L322.9,308.7L323.6,308.7L324.4,308.7L325.1,308.6L325.9,308.6L326.6,308.6L327.4,308.5L328.1,308.5L328.9,308.5L329.6,308.4L330.4,308.4L331.1,308.4L331.9,308.3L332.6,308.3L333.4,308.3L334.1,308.2L334.9,308.2L335.6,308.1L336.4,308.1L337.1,308.1L337.9,308.0L338.6,308.0L339.4,307.9L340.1,307.9L340.9,307.8L341.6,307.8L342.4,307.7L343.1,307.7L343.9,307.6L344.6,307.6L345.4,307.5L346.1,307.4L346.9,307.4L347.6,307.3L348.4,307.3L349.1,307.2L349.9,307.1L350.6,307.1L351.4,307.0L352.1,306.9L352.9,306.8L353.6,306.8L354.4,306.7L355.1,306.6L355.9,306.5L356.6,306.4L357.4,306.4L358.1,306.3L358.9,306.2L359.6,306.1L360.4,306.0L361.1,305.9L361.9,305.8L362.6,305.7L363.4,305.6L364.1,305.4L364.9,305.3L365.6,305.2L366.4,305.1L367.1,304.9L367.9,304.8L368.6,304.7L369.4,304.5L370.1,304.4L370.9,304.2L371.6,304.1L372.4,303.9L373.1,303.7L373.9,303.6L374.6,303.4L375.4,303.2L376.1,303.0L376.9,302.8L377.6,302.6L378.4,302.4L379.1,302.2L379.9,302.0L380.6,301.7L381.4,301.5L382.1,301.3L382.9,301.0L383.6,300.7L384.4,300.5L385.1,300.2L385.9,299.9L386.6,299.6L387.4,299.3L388.1,299.0L388.9,298.6L389.6,298.3L390.4,298.0L391.1,297.6L391.9,297.2L392.6,296.8L393.4,296.5L394.1,296.1L394.9,295.7L395.6,295.2L396.4,294.8L397.1,294.4L397.9,293.9L398.6,293.5L399.4,293.0L400.1,292.6L400.9,292.1L401.6,291.7L402.4,291.2L403.1,290.7L403.9,290.3L404.6,289.8L405.4,289.4L406.1,288.9L406.9,288.5L407.6,288.1L408.4,287.7L409.1,287.3L409.9,286.9L410.6,286.6L411.4,286.2L412.1,286.0L412.9,285.7L413.6,285.5L414.4,285.3L415.1,285.1L415.9,285.0L416.6,284.9L417.4,284.9L418.1,284.9L418.9,284.9L419.6,285.0L420.4,285.1L421.1,285.2L421.9,285.4L422.6,285.6L423.4,285.8L424.1,286.1L424.9,286.4L425.6,286.7L426.4,287.0L427.1,287.4L427.9,287.7L428.6,288.1L429.4,288.5L430.1,288.9L430.9,289.4L431.6,289.8L432.4,290.2L433.1,290.7L433.9,291.1L434.6,291.5L435.4,292.0L436.1,292.4L436.9,292.9L437.6,293.3L438.4,293.7L439.1,294.1L439.9,294.5L440.6,295.0L441.4,295.4L442.1,295.7L442.9,296.1L443.6,296.5L444.4,296.9L445.1,297.2L445.9,297.6L446.6,297.9L447.4,298.2L448.1,298.6L448.9,298.9L449.6,299.2L450.4,299.5L451.1,299.8L451.9,300.0L452.6,300.3L453.4,300.6L454.1,300.8L454.9,301.1L455.6,301.3L456.4,301.6L457.1,301.8L457.9,302.0L458.6,302.2L459.4,302.4L460.1,302.6L460.9,302.8L461.6,303.0L462.4,303.2L463.1,303.3L463.9,303.5L464.6,303.7L465.4,303.8L466.1,304.0L466.9,304.2L467.6,304.3L468.4,304.4L469.1,304.6L469.9,304.7L470.6,304.8L471.4,305.0L472.1,305.1L472.9,305.2L473.6,305.3L474.4,305.4L475.1,305.5L475.9,305.6L476.6,305.8L477.4,305.9L478.1,305.9L478.9,306.0L479.6,306.1L480.4,306.2L481.1,306.3L481.9,306.4L482.6,306.5L483.4,306.6L484.1,306.6L484.9,306.7L485.6,306.8L486.4,306.9L487.1,306.9L487.9,307.0L488.6,307.1L489.4,307.1L490.1,307.2L490.9,307.2L491.6,307.3L492.4,307.4L493.1,307.4L493.9,307.5L494.6,307.5L495.4,307.6L496.1,307.6L496.9,307.7L497.6,307.7L498.4,307.8L499.1,307.8L499.9,307.9L500.6,307.9L501.4,308.0L502.1,308.0L502.9,308.0L503.6,308.1L504.4,308.1L505.1,308.2L505.9,308.2L506.6,308.2L507.4,308.3L508.1,308.3L508.9,308.4L509.6,308.4L510.4,308.4L511.1,308.5L511.9,308.5L512.6,308.5L513.4,308.5L514.1,308.6L514.9,308.6L515.6,308.6L516.4,308.7L517.1,308.7L517.9,308.7L518.6,308.7L519.4,308.8L520.1,308.8L520.9,308.8L521.6,308.8L522.4,308.9L523.1,308.9L523.9,308.9L524.6,308.9L525.4,309.0L526.1,309.0L526.9,309.0L527.6,309.0L528.4,309.0L529.1,309.1L529.9,309.1L530.6,309.1L531.4,309.1L532.1,309.1L532.9,309.2L533.6,309.2L534.4,309.2L535.1,309.2L535.9,309.2L536.6,309.2L537.4,309.3L538.1,309.3L538.9,309.3L539.6,309.3L540.4,309.3L541.1,309.3L541.9,309.4L542.6,309.4L543.4,309.4L544.1,309.4L544.9,309.4L545.6,309.4L546.4,309.4L547.1,309.5L547.9,309.5L548.6,309.5L549.4,309.5L550.1,309.5L550.9,309.5L551.6,309.5L552.4,309.5L553.1,309.6L553.9,309.6L554.6,309.6L555.4,309.6L556.1,309.6L556.9,309.6L557.6,309.6L558.4,309.6L559.1,309.6L559.9,309.7L560.6,309.7L561.4,309.7L562.1,309.7L562.9,309.7L563.6,309.7L564.4,309.7L565.1,309.7L565.9,309.7L566.6,309.7L567.4,309.7L568.1,309.8L568.9,309.8L569.6,309.8L570.4,309.8L571.1,309.8L571.9,309.8L572.6,309.8L573.4,309.8L574.1,309.8L574.9,309.8L575.6,309.8L576.4,309.8L577.1,309.9L577.9,309.9L578.6,309.9L579.4,309.9L580.1,309.9L580.9,309.9L581.6,309.9L582.4,309.9L583.1,309.9L583.9,309.9L584.6,309.9L585.4,309.9L586.1,309.9L586.9,309.9L587.6,309.9L588.4,309.9L589.1,310.0L589.9,310.0L590.6,310.0L591.4,310.0L592.1,310.0L592.9,310.0L593.6,310.0L594.4,310.0L595.1,310.0L595.9,310.0L596.6,310.0L597.4,310.0L598.1,310.0L598.9,310.0L599.6,310.0L600.4,310.0L601.1,310.0L601.9,310.0L602.6,310.1L603.4,310.1L604.1,310.1L604.9,310.1L605.6,310.1L606.4,310.1L607.1,310.1L607.9,310.1L608.6,310.1L609.0,310.1" stroke="#000" stroke-width="2" stroke-dasharray="5 4.55 1.8 4.55"/>
<path d="M90.4,310.6L91.2,302.1L91.9,298.6L92.7,295.9L93.4,293.5L94.2,291.3L94.9,289.3L95.7,287.5L96.4,285.9L97.2,284.4L97.9,283.0L98.7,281.6L99.4,280.3L100.2,279.1L100.9,277.9L101.7,276.7L102.4,275.6L103.2,274.5L103.9,273.4L104.7,272.4L105.4,271.4L106.2,270.4L106.9,269.4L107.7,268.5L108.4,267.6L109.2,266.7L109.9,265.8L110.7,264.9L111.4,264.1L112.2,263.3L112.9,262.5L113.7,261.7L114.4,260.9L115.2,260.1L115.9,259.4L116.7,258.6L117.4,257.9L118.2,257.1L118.9,256.4L119.7,255.6L120.4,254.9L121.2,254.1L121.9,253.4L122.7,252.8L123.4,252.2L124.2,251.6L124.9,251.0L125.7,250.4L126.4,249.9L127.2,249.3L127.9,248.8L128.7,248.2L129.4,247.7L130.2,247.2L130.9,246.7L131.7,246.2L132.4,245.8L133.2,245.3L133.9,244.9L134.7,244.5L135.4,244.1L136.2,243.7L136.9,243.4L137.7,243.0L138.4,242.7L139.2,242.4L139.9,242.0L140.7,241.7L141.4,241.4L142.2,241.1L142.9,240.9L143.7,240.6L144.4,240.3L145.2,240.0L145.9,239.8L146.7,239.5L147.4,239.3L148.2,239.0L148.9,238.8L149.7,238.6L150.4,238.3L151.2,238.1L151.9,237.9L152.7,237.7L153.4,237.4L154.2,237.2L154.9,237.0L155.7,236.8L156.4,236.5L157.2,236.3L157.9,236.1L158.7,235.9L159.4,235.6L160.2,235.4L160.9,235.2L161.7,235.0L162.4,234.8L163.2,234.5L163.9,234.3L164.7,234.1L165.4,234.0L166.2,233.8L166.9,233.6L167.7,233.5L168.4,233.3L169.2,233.2L169.9,233.1L170.7,233.0L171.4,232.9L172.2,232.8L172.9,232.7L173.7,232.6L174.4,232.5L175.2,232.5L175.9,232.4L176.7,232.3L177.4,232.3L178.2,232.2L178.9,232.1L179.7,232.1L180.4,232.0L181.2,231.9L181.9,231.9L182.7,231.8L183.4,231.7L184.2,231.7L184.9,231.6L185.7,231.6L186.4,231.5L187.2,231.4L187.9,231.4L188.7,231.3L189.4,231.2L190.2,231.2L190.9,231.1L191.7,231.0L192.4,230.9L193.2,230.8L193.9,230.8L194.7,230.7L195.4,230.6L196.2,230.5L196.9,230.4L197.7,230.3L198.4,230.1L199.2,230.0L199.9,229.9L200.7,229.8L201.4,229.6L202.2,229.5L202.9,229.3L203.7,229.1L204.4,229.0L205.2,228.8L205.9,228.5L206.7,228.3L207.4,227.9L208.2,227.6L208.9,227.2L209.7,226.7L210.4,226.2L211.2,225.7L211.9,225.2L212.7,224.7L213.4,224.0L214.2,223.3L214.9,222.6L215.7,221.8L216.4,221.0L217.2,220.2L217.9,219.5L218.7,218.8L219.4,218.0L220.2,217.3L220.9,216.5L221.7,215.8L222.4,215.0L223.2,214.3L223.9,213.6L224.7,212.9L225.4,212.3L226.2,211.7L226.9,211.2L227.7,210.7L228.4,210.3L229.2,209.9L229.9,209.4L230.7,209.1L231.4,208.8L232.2,208.7L232.9,208.6L233.7,208.7L234.4,208.8L235.2,209.0L235.9,209.3L236.7,209.5L237.4,209.8L238.2,210.1L238.9,210.4L239.7,210.9L240.4,211.3L241.2,211.9L241.9,212.5L242.7,213.1L243.4,213.8L244.2,214.5L244.9,215.2L245.7,215.9L246.4,216.7L247.2,217.4L247.9,218.2L248.7,219.1L249.4,220.1L250.2,221.1L250.9,222.2L251.7,223.3L252.4,224.4L253.2,225.5L253.9,226.5L254.7,227.5L255.4,228.5L256.1,229.3L256.9,230.1L257.6,230.9L258.4,231.6L259.1,232.3L259.9,232.9L260.6,233.6L261.4,234.2L262.1,234.8L262.9,235.4L263.6,236.0L264.4,236.5L265.1,237.0L265.9,237.4L266.6,237.9L267.4,238.3L268.1,238.7L268.9,239.1L269.6,239.5L270.4,239.8L271.1,240.2L271.9,240.5L272.6,240.8L273.4,241.1L274.1,241.3L274.9,241.6L275.6,241.8L276.4,242.0L277.1,242.3L277.9,242.5L278.6,242.7L279.4,242.8L280.1,243.0L280.9,243.2L281.6,243.4L282.4,243.5L283.1,243.7L283.9,243.8L284.6,244.0L285.4,244.2L286.1,244.3L286.9,244.5L287.6,244.6L288.4,244.8L289.1,244.9L289.9,245.1L290.6,245.2L291.4,245.4L292.1,245.5L292.9,245.7L293.6,245.8L294.4,246.0L295.1,246.1L295.9,246.3L296.6,246.4L297.4,246.5L298.1,246.7L298.9,246.8L299.6,247.0L300.4,247.1L301.1,247.3L301.9,247.4L302.6,247.5L303.4,247.7L304.1,247.8L304.9,248.0L305.6,248.1L306.4,248.3L307.1,248.5L307.9,248.6L308.6,248.8L309.4,248.9L310.1,249.1L310.9,249.3L311.6,249.5L312.4,249.6L313.1,249.8L313.9,250.0L314.6,250.1L315.4,250.3L316.1,250.5L316.9,250.7L317.6,250.9L318.4,251.0L319.1,251.2L319.9,251.4L320.6,251.6L321.4,251.8L322.1,251.9L322.9,252.1L323.6,252.3L324.4,252.5L325.1,252.7L325.9,252.9L326.6,253.0L327.4,253.2L328.1,253.4L328.9,253.6L329.6,253.8L330.4,254.0L331.1,254.1L331.9,254.3L332.6,254.5L333.4,254.7L334.1,254.9L334.9,255.0L335.6,255.2L336.4,255.4L337.1,255.6L337.9,255.8L338.6,255.9L339.4,256.1L340.1,256.3L340.9,256.5L341.6,256.7L342.4,256.9L343.1,257.0L343.9,257.2L344.6,257.4L345.4,257.6L346.1,257.8L346.9,257.9L347.6,258.1L348.4,258.3L349.1,258.5L349.9,258.7L350.6,258.9L351.4,259.0L352.1,259.2L352.9,259.4L353.6,259.6L354.4,259.8L355.1,259.9L355.9,260.1L356.6,260.3L357.4,260.5L358.1,260.6L358.9,260.8L359.6,261.0L360.4,261.2L361.1,261.3L361.9,261.5L362.6,261.7L363.4,261.8L364.1,262.0L364.9,262.2L365.6,262.4L366.4,262.5L367.1,262.7L367.9,262.9L368.6,263.0L369.4,263.2L370.1,263.4L370.9,263.5L371.6,263.7L372.4,263.9L373.1,264.1L373.9,264.2L374.6,264.4L375.4,264.6L376.1,264.7L376.9,264.9L377.6,265.1L378.4,265.2L379.1,265.4L379.9,265.6L380.6,265.7L381.4,265.9L382.1,266.1L382.9,266.2L383.6,266.4L384.4,266.6L385.1,266.7L385.9,266.9L386.6,267.1L387.4,267.2L388.1,267.4L388.9,267.6L389.6,267.7L390.4,267.9L391.1,268.0L391.9,268.2L392.6,268.4L393.4,268.5L394.1,268.7L394.9,268.8L395.6,269.0L396.4,269.2L397.1,269.3L397.9,269.5L398.6,269.6L399.4,269.8L400.1,270.0L400.9,270.1L401.6,270.3L402.4,270.4L403.1,270.6L403.9,270.7L404.6,270.9L405.4,271.0L406.1,271.2L406.9,271.4L407.6,271.5L408.4,271.7L409.1,271.8L409.9,272.0L410.6,272.1L411.4,272.3L412.1,272.4L412.9,272.6L413.6,272.7L414.4,272.8L415.1,273.0L415.9,273.1L416.6,273.3L417.4,273.4L418.1,273.6L418.9,273.7L419.6,273.8L420.4,274.0L421.1,274.1L421.9,274.3L422.6,274.4L423.4,274.5L424.1,274.7L424.9,274.8L425.6,274.9L426.4,275.1L427.1,275.2L427.9,275.3L428.6,275.5L429.4,275.6L430.1,275.7L430.9,275.9L431.6,276.0L432.4,276.1L433.1,276.3L433.9,276.4L434.6,276.5L435.4,276.6L436.1,276.8L436.9,276.9L437.6,277.0L438.4,277.1L439.1,277.3L439.9,277.4L440.6,277.5L441.4,277.7L442.1,277.8L442.9,277.9L443.6,278.0L444.4,278.2L445.1,278.3L445.9,278.4L446.6,278.5L447.4,278.7L448.1,278.8L448.9,278.9L449.6,279.0L450.4,279.2L451.1,279.3L451.9,279.4L452.6,279.5L453.4,279.7L454.1,279.8L454.9,279.9L455.6,280.1L456.4,280.2L457.1,280.3L457.9,280.4L458.6,280.6L459.4,280.7L460.1,280.8L460.9,281.0L461.6,281.1L462.4,281.2L463.1,281.4L463.9,281.5L464.6,281.6L465.4,281.8L466.1,281.9L466.9,282.0L467.6,282.2L468.4,282.3L469.1,282.4L469.9,282.6L470.6,282.7L471.4,282.8L472.1,283.0L472.9,283.1L473.6,283.2L474.4,283.4L475.1,283.5L475.9,283.6L476.6,283.7L477.4,283.9L478.1,284.0L478.9,284.1L479.6,284.2L480.4,284.3L481.1,284.5L481.9,284.6L482.6,284.7L483.4,284.8L484.1,284.9L484.9,285.1L485.6,285.2L486.4,285.3L487.1,285.4L487.9,285.5L488.6,285.6L489.4,285.7L490.1,285.8L490.9,286.0L491.6,286.1L492.4,286.2L493.1,286.3L493.9,286.4L494.6,286.5L495.4,286.6L496.1,286.7L496.9,286.8L497.6,286.9L498.4,287.0L499.1,287.1L499.9,287.2L500.6,287.3L501.4,287.4L502.1,287.5L502.9,287.5L503.6,287.6L504.4,287.7L505.1,287.8L505.9,287.9L506.6,288.0L507.4,288.1L508.1,288.1L508.9,288.2L509.6,288.3L510.4,288.4L511.1,288.5L511.9,288.6L512.6,288.6L513.4,288.7L514.1,288.8L514.9,288.9L515.6,289.0L516.4,289.0L517.1,289.1L517.9,289.2L518.6,289.3L519.4,289.4L520.1,289.4L520.9,289.5L521.6,289.6L522.4,289.7L523.1,289.7L523.9,289.8L524.6,289.9L525.4,290.0L526.1,290.0L526.9,290.1L527.6,290.2L528.4,290.3L529.1,290.4L529.9,290.4L530.6,290.5L531.4,290.6L532.1,290.7L532.9,290.7L533.6,290.8L534.4,290.9L535.1,291.0L535.9,291.1L536.6,291.2L537.4,291.2L538.1,291.3L538.9,291.4L539.6,291.5L540.4,291.6L541.1,291.7L541.9,291.7L542.6,291.8L543.4,291.9L544.1,292.0L544.9,292.1L545.6,292.2L546.4,292.3L547.1,292.3L547.9,292.4L548.6,292.5L549.4,292.6L550.1,292.7L550.9,292.8L551.6,292.9L552.4,292.9L553.1,293.0L553.9,293.1L554.6,293.2L555.4,293.3L556.1,293.4L556.9,293.5L557.6,293.5L558.4,293.6L559.1,293.7L559.9,293.8L560.6,293.9L561.4,293.9L562.1,294.0L562.9,294.1L563.6,294.2L564.4,294.2L565.1,294.3L565.9,294.4L566.6,294.5L567.4,294.5L568.1,294.6L568.9,294.7L569.6,294.7L570.4,294.8L571.1,294.9L571.9,295.0L572.6,295.0L573.4,295.1L574.1,295.2L574.9,295.2L575.6,295.3L576.4,295.4L577.1,295.5L577.9,295.5L578.6,295.6L579.4,295.7L580.1,295.7L580.9,295.8L581.6,295.9L582.4,295.9L583.1,296.0L583.9,296.1L584.6,296.2L585.4,296.2L586.1,296.3L586.9,296.4L587.6,296.5L588.4,296.5L589.1,296.6L589.9,296.7L590.6,296.7L591.4,296.8L592.1,296.8L592.9,296.9L593.6,297.0L594.4,297.0L595.1,297.1L595.9,297.2L596.6,297.2L597.4,297.3L598.1,297.3L598.9,297.4L599.6,297.5L600.4,297.5L601.1,297.6L601.9,297.6L602.6,297.7L603.4,297.7L604.1,297.7L604.9,297.8L605.6,297.8L606.4,297.9L607.1,297.9L607.9,297.9L608.6,298.0L609.0,298.0" stroke="#f00" stroke-width="2.2" stroke-dasharray="4.3 3.64"/>
<path d="M90.4,310.6L91.2,302.1L91.9,298.5L92.7,295.9L93.4,293.5L94.2,291.3L94.9,289.2L95.7,287.5L96.4,285.9L97.2,284.4L97.9,282.9L98.7,281.6L99.4,280.3L100.2,279.0L100.9,277.8L101.7,276.6L102.4,275.5L103.2,274.4L103.9,273.3L104.7,272.3L105.4,271.3L106.2,270.3L106.9,269.3L107.7,268.4L108.4,267.5L109.2,266.5L109.9,265.7L110.7,264.8L111.4,264.0L112.2,263.1L112.9,262.3L113.7,261.5L114.4,260.7L115.2,260.0L115.9,259.2L116.7,258.4L117.4,257.7L118.2,256.9L118.9,256.2L119.7,255.4L120.4,254.7L121.2,254.0L121.9,253.3L122.7,252.6L123.4,252.0L124.2,251.4L124.9,250.8L125.7,250.2L126.4,249.6L127.2,249.1L127.9,248.5L128.7,248.0L129.4,247.5L130.2,247.0L130.9,246.5L131.7,246.0L132.4,245.5L133.2,245.1L133.9,244.7L134.7,244.2L135.4,243.8L136.2,243.5L136.9,243.1L137.7,242.7L138.4,242.4L139.2,242.1L139.9,241.8L140.7,241.4L141.4,241.1L142.2,240.8L142.9,240.6L143.7,240.3L144.4,240.0L145.2,239.7L145.9,239.5L146.7,239.2L147.4,239.0L148.2,238.7L148.9,238.5L149.7,238.2L150.4,238.0L151.2,237.8L151.9,237.5L152.7,237.3L153.4,237.1L154.2,236.8L154.9,236.6L155.7,236.4L156.4,236.2L157.2,235.9L157.9,235.7L158.7,235.5L159.4,235.3L160.2,235.0L160.9,234.8L161.7,234.6L162.4,234.4L163.2,234.1L163.9,233.9L164.7,233.7L165.4,233.5L166.2,233.4L166.9,233.2L167.7,233.0L168.4,232.9L169.2,232.7L169.9,232.6L170.7,232.5L171.4,232.4L172.2,232.3L172.9,232.2L173.7,232.1L174.4,232.1L175.2,232.0L175.9,231.9L176.7,231.9L177.4,231.8L178.2,231.7L178.9,231.7L179.7,231.6L180.4,231.5L181.2,231.4L181.9,231.4L182.7,231.3L183.4,231.2L184.2,231.2L184.9,231.1L185.7,231.0L186.4,231.0L187.2,230.9L187.9,230.8L188.7,230.8L189.4,230.7L190.2,230.6L190.9,230.5L191.7,230.5L192.4,230.4L193.2,230.3L193.9,230.2L194.7,230.1L195.4,230.0L196.2,229.9L196.9,229.8L197.7,229.7L198.4,229.6L199.2,229.4L199.9,229.3L200.7,229.2L201.4,229.0L202.2,228.9L202.9,228.7L203.7,228.5L204.4,228.3L205.2,228.1L205.9,227.9L206.7,227.6L207.4,227.3L208.2,226.9L208.9,226.5L209.7,226.1L210.4,225.6L211.2,225.1L211.9,224.6L212.7,224.0L213.4,223.4L214.2,222.6L214.9,221.9L215.7,221.1L216.4,220.3L217.2,219.5L217.9,218.8L218.7,218.1L219.4,217.3L220.2,216.6L220.9,215.8L221.7,215.1L222.4,214.3L223.2,213.6L223.9,212.9L224.7,212.2L225.4,211.6L226.2,211.0L226.9,210.4L227.7,210.0L228.4,209.6L229.2,209.1L229.9,208.7L230.7,208.4L231.4,208.1L232.2,207.9L232.9,207.9L233.7,208.0L234.4,208.1L235.2,208.3L235.9,208.5L236.7,208.8L237.4,209.1L238.2,209.4L238.9,209.7L239.7,210.1L240.4,210.6L241.2,211.1L241.9,211.7L242.7,212.3L243.4,213.0L244.2,213.7L244.9,214.4L245.7,215.2L246.4,215.9L247.2,216.6L247.9,217.5L248.7,218.3L249.4,219.3L250.2,220.3L250.9,221.4L251.7,222.5L252.4,223.6L253.2,224.7L253.9,225.7L254.7,226.7L255.4,227.7L256.1,228.5L256.9,229.3L257.6,230.0L258.4,230.7L259.1,231.4L259.9,232.1L260.6,232.7L261.4,233.4L262.1,234.0L262.9,234.5L263.6,235.1L264.4,235.6L265.1,236.1L265.9,236.6L266.6,237.0L267.4,237.4L268.1,237.8L268.9,238.2L269.6,238.6L270.4,238.9L271.1,239.3L271.9,239.6L272.6,239.9L273.4,240.2L274.1,240.4L274.9,240.7L275.6,240.9L276.4,241.1L277.1,241.3L277.9,241.5L278.6,241.7L279.4,241.9L280.1,242.1L280.9,242.2L281.6,242.4L282.4,242.5L283.1,242.7L283.9,242.9L284.6,243.0L285.4,243.2L286.1,243.3L286.9,243.5L287.6,243.6L288.4,243.8L289.1,243.9L289.9,244.0L290.6,244.2L291.4,244.3L292.1,244.5L292.9,244.6L293.6,244.7L294.4,244.8L295.1,245.0L295.9,245.1L296.6,245.2L297.4,245.4L298.1,245.5L298.9,245.6L299.6,245.7L300.4,245.9L301.1,246.0L301.9,246.1L302.6,246.3L303.4,246.4L304.1,246.5L304.9,246.7L305.6,246.8L306.4,246.9L307.1,247.1L307.9,247.2L308.6,247.4L309.4,247.5L310.1,247.7L310.9,247.8L311.6,248.0L312.4,248.1L313.1,248.3L313.9,248.4L314.6,248.6L315.4,248.7L316.1,248.9L316.9,249.0L317.6,249.2L318.4,249.4L319.1,249.5L319.9,249.7L320.6,249.8L321.4,250.0L322.1,250.2L322.9,250.3L323.6,250.5L324.4,250.7L325.1,250.8L325.9,251.0L326.6,251.1L327.4,251.3L328.1,251.5L328.9,251.6L329.6,251.8L330.4,252.0L331.1,252.1L331.9,252.3L332.6,252.4L333.4,252.6L334.1,252.8L334.9,252.9L335.6,253.1L336.4,253.3L337.1,253.4L337.9,253.6L338.6,253.8L339.4,253.9L340.1,254.1L340.9,254.3L341.6,254.4L342.4,254.6L343.1,254.8L343.9,254.9L344.6,255.1L345.4,255.3L346.1,255.4L346.9,255.6L347.6,255.8L348.4,255.9L349.1,256.1L349.9,256.3L350.6,256.4L351.4,256.6L352.1,256.8L352.9,256.9L353.6,257.1L354.4,257.3L355.1,257.4L355.9,257.6L356.6,257.8L357.4,257.9L358.1,258.1L358.9,258.3L359.6,258.4L360.4,258.6L361.1,258.7L361.9,258.9L362.6,259.1L363.4,259.2L364.1,259.4L364.9,259.5L365.6,259.7L366.4,259.8L367.1,260.0L367.9,260.2L368.6,260.3L369.4,260.5L370.1,260.6L370.9,260.8L371.6,260.9L372.4,261.1L373.1,261.3L373.9,261.4L374.6,261.6L375.4,261.7L376.1,261.9L376.9,262.0L377.6,262.2L378.4,262.3L379.1,262.5L379.9,262.7L380.6,262.8L381.4,263.0L382.1,263.1L382.9,263.3L383.6,263.4L384.4,263.6L385.1,263.7L385.9,263.9L386.6,264.0L387.4,264.2L388.1,264.3L388.9,264.5L389.6,264.6L390.4,264.8L391.1,264.9L391.9,265.1L392.6,265.2L393.4,265.4L394.1,265.5L394.9,265.7L395.6,265.8L396.4,266.0L397.1,266.1L397.9,266.3L398.6,266.4L399.4,266.6L400.1,266.7L400.9,266.9L401.6,267.0L402.4,267.2L403.1,267.3L403.9,267.4L404.6,267.6L405.4,267.7L406.1,267.9L406.9,268.0L407.6,268.1L408.4,268.3L409.1,268.4L409.9,268.6L410.6,268.7L411.4,268.8L412.1,269.0L412.9,269.1L413.6,269.3L414.4,269.4L415.1,269.5L415.9,269.7L416.6,269.8L417.4,269.9L418.1,270.1L418.9,270.2L419.6,270.3L420.4,270.5L421.1,270.6L421.9,270.7L422.6,270.8L423.4,271.0L424.1,271.1L424.9,271.2L425.6,271.3L426.4,271.5L427.1,271.6L427.9,271.7L428.6,271.8L429.4,272.0L430.1,272.1L430.9,272.2L431.6,272.3L432.4,272.4L433.1,272.6L433.9,272.7L434.6,272.8L435.4,272.9L436.1,273.0L436.9,273.2L437.6,273.3L438.4,273.4L439.1,273.5L439.9,273.6L440.6,273.7L441.4,273.9L442.1,274.0L442.9,274.1L443.6,274.2L444.4,274.3L445.1,274.5L445.9,274.6L446.6,274.7L447.4,274.8L448.1,274.9L448.9,275.0L449.6,275.2L450.4,275.3L451.1,275.4L451.9,275.5L452.6,275.6L453.4,275.7L454.1,275.9L454.9,276.0L455.6,276.1L456.4,276.2L457.1,276.3L457.9,276.5L458.6,276.6L459.4,276.7L460.1,276.8L460.9,276.9L461.6,277.1L462.4,277.2L463.1,277.3L463.9,277.4L464.6,277.6L465.4,277.7L466.1,277.8L466.9,278.0L467.6,278.1L468.4,278.2L469.1,278.3L469.9,278.5L470.6,278.6L471.4,278.7L472.1,278.8L472.9,279.0L473.6,279.1L474.4,279.2L475.1,279.3L475.9,279.4L476.6,279.6L477.4,279.7L478.1,279.8L478.9,279.9L479.6,280.0L480.4,280.1L481.1,280.2L481.9,280.4L482.6,280.5L483.4,280.6L484.1,280.7L484.9,280.8L485.6,280.9L486.4,281.0L487.1,281.1L487.9,281.2L488.6,281.3L489.4,281.4L490.1,281.5L490.9,281.6L491.6,281.7L492.4,281.8L493.1,281.9L493.9,282.0L494.6,282.1L495.4,282.2L496.1,282.3L496.9,282.4L497.6,282.5L498.4,282.6L499.1,282.7L499.9,282.8L500.6,282.8L501.4,282.9L502.1,283.0L502.9,283.1L503.6,283.2L504.4,283.3L505.1,283.3L505.9,283.4L506.6,283.5L507.4,283.6L508.1,283.7L508.9,283.7L509.6,283.8L510.4,283.9L511.1,284.0L511.9,284.0L512.6,284.1L513.4,284.2L514.1,284.2L514.9,284.3L515.6,284.4L516.4,284.5L517.1,284.5L517.9,284.6L518.6,284.7L519.4,284.7L520.1,284.8L520.9,284.9L521.6,285.0L522.4,285.0L523.1,285.1L523.9,285.2L524.6,285.2L525.4,285.3L526.1,285.4L526.9,285.4L527.6,285.5L528.4,285.6L529.1,285.7L529.9,285.7L530.6,285.8L531.4,285.9L532.1,285.9L532.9,286.0L533.6,286.1L534.4,286.1L535.1,286.2L535.9,286.3L536.6,286.4L537.4,286.4L538.1,286.5L538.9,286.6L539.6,286.6L540.4,286.7L541.1,286.8L541.9,286.9L542.6,286.9L543.4,287.0L544.1,287.1L544.9,287.2L545.6,287.2L546.4,287.3L547.1,287.4L547.9,287.4L548.6,287.5L549.4,287.6L550.1,287.7L550.9,287.7L551.6,287.8L552.4,287.9L553.1,287.9L553.9,288.0L554.6,288.1L555.4,288.2L556.1,288.2L556.9,288.3L557.6,288.4L558.4,288.4L559.1,288.5L559.9,288.6L560.6,288.7L561.4,288.7L562.1,288.8L562.9,288.9L563.6,288.9L564.4,289.0L565.1,289.1L565.9,289.2L566.6,289.2L567.4,289.3L568.1,289.4L568.9,289.4L569.6,289.5L570.4,289.6L571.1,289.6L571.9,289.7L572.6,289.8L573.4,289.9L574.1,289.9L574.9,290.0L575.6,290.1L576.4,290.1L577.1,290.2L577.9,290.3L578.6,290.3L579.4,290.4L580.1,290.5L580.9,290.5L581.6,290.6L582.4,290.7L583.1,290.7L583.9,290.8L584.6,290.9L585.4,290.9L586.1,291.0L586.9,291.1L587.6,291.1L588.4,291.2L589.1,291.2L589.9,291.3L590.6,291.3L591.4,291.4L592.1,291.4L592.9,291.5L593.6,291.5L594.4,291.6L595.1,291.6L595.9,291.7L596.6,291.7L597.4,291.8L598.1,291.8L598.9,291.8L599.6,291.9L600.4,291.9L601.1,292.0L601.9,292.0L602.6,292.0L603.4,292.1L604.1,292.1L604.9,292.1L605.6,292.2L606.4,292.2L607.1,292.2L607.9,292.3L608.6,292.3L609.0,292.3" stroke="#00f" stroke-width="2.2" stroke-dasharray="1.6 2.37"/>
</g>
<path d="M275.0,0.85V310.65M334.55,0.85V310.65" stroke="#000" stroke-width="1.6"/>
<rect x="67.05" y="0.85" width="542.0" height="309.79999999999995" stroke="#000" stroke-width="1.9" fill="none"/>
<path d="M97.2,310.65v-7.8M97.2,0.85v8.3M127.3,310.65v-7.8M127.3,0.85v8.3M157.4,310.65v-15.3M157.4,0.85v15.8M187.5,310.65v-7.8M187.5,0.85v8.3M217.6,310.65v-7.8M217.6,0.85v8.3M247.7,310.65v-7.8M247.7,0.85v8.3M277.8,310.65v-7.8M277.8,0.85v8.3M307.9,310.65v-15.3M307.9,0.85v15.8M338.1,310.65v-7.8M338.1,0.85v8.3M368.2,310.65v-7.8M368.2,0.85v8.3M398.3,310.65v-7.8M398.3,0.85v8.3M428.4,310.65v-7.8M428.4,0.85v8.3M458.5,310.65v-15.3M458.5,0.85v15.8M488.6,310.65v-7.8M488.6,0.85v8.3M518.7,310.65v-7.8M518.7,0.85v8.3M548.8,310.65v-7.8M548.8,0.85v8.3M578.9,310.65v-7.8M578.9,0.85v8.3M67.05,266.4h7.8M609.05,266.4h-7.8M67.05,222.2h7.8M609.05,222.2h-7.8M67.05,178.0h7.8M609.05,178.0h-7.8M67.05,133.8h15.3M609.05,133.8h-15.3M67.05,89.6h7.8M609.05,89.6h-7.8M67.05,45.4h7.8M609.05,45.4h-7.8" stroke="#000" stroke-width="1.6" fill="none"/>
<g font-family="Liberation Sans, sans-serif" font-size="21.3" fill="#000">
<text x="157.7" y="342.4" text-anchor="middle">0.5</text>
<text x="308.2" y="342.4" text-anchor="middle">1.0</text>
<text x="458.8" y="342.4" text-anchor="middle">1.5</text>
<text x="608.8" y="342.4" text-anchor="middle">2.0</text>
<text x="58.7" y="141.3" text-anchor="end">40</text>
<text x="58.9" y="318.4" text-anchor="end">0</text>
<text transform="translate(253.45,368.2) scale(1,1)" font-size="21.3">M(</text>
<text transform="translate(276.94,368.2) scale(0.87,1)" font-size="21.3">π</text>
<text transform="translate(291.66,358.4) scale(1,1)" font-size="11.5">+</text>
<text transform="translate(298.64,368.2) scale(0.87,1)" font-size="21.3">π</text>
<text transform="translate(311.04,357.9) scale(1,1)" font-size="14">-</text>
<text transform="translate(316.87,368.2) scale(1,1)" font-size="21.3">)</text>
<text transform="translate(329.65,368.2) scale(0.975,1)" font-size="21.3">(GeV</text>
<text transform="translate(385.00,368.2) scale(1,1)" font-size="21.3">/</text>
<text transform="translate(395.83,368.2) scale(1,1)" font-size="21.3">c</text>
<text transform="translate(407.00,359.4) scale(1,1)" font-size="15">2</text>
<text transform="translate(416.17,368.2) scale(1,1)" font-size="21.3">)</text>
<text transform="translate(21.5,244.85) rotate(-90)" font-size="21.3">Events</text>
<text transform="translate(21.5,173.20) rotate(-90)" font-size="21.3">/</text>
<text transform="translate(21.5,162.08) rotate(-90)" font-size="21.3">(40</text>
<text transform="translate(21.5,124.45) rotate(-90)" font-size="21.3">MeV</text>
<text transform="translate(21.5,74.40) rotate(-90)" font-size="21.3">/</text>
<text transform="translate(21.5,62.87) rotate(-90)" font-size="21.3">c</text>
<text transform="translate(10.6,52.30) rotate(-90)" font-size="15">2</text>
<text transform="translate(21.5,43.13) rotate(-90)" font-size="21.3">)</text>
</g>
</svg>
</body></html>
